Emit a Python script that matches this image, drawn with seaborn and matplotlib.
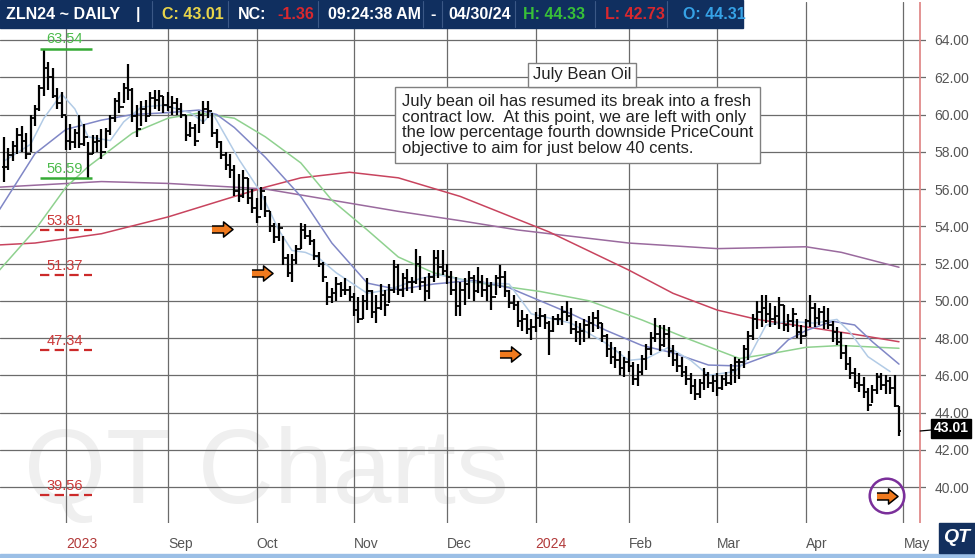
import numpy as np
import pandas as pd
import seaborn as sns
import matplotlib.pyplot as plt
from matplotlib.patches import Rectangle

# ---- data ----
# trading-day number, 0 = first session of Aug 2023
bar_day = np.arange(-14, 189)

bar_high = [
    58.8, 58.2, 58.6, 59.3, 59.4, 59.0, 60.0, 60.5, 61.6, 63.54,
    62.8, 62.5, 61.4, 61.2, 59.9, 59.5, 59.2, 60.0, 59.5, 58.5,
    58.9, 58.9, 59.2, 59.3, 60.0, 60.9, 61.2, 61.7, 62.7, 61.4,
    60.5, 60.7, 60.8, 61.2, 61.3, 61.3, 61.0, 61.2, 61.0, 60.9,
    60.6, 60.0, 59.6, 59.5, 60.2, 60.7, 60.7, 60.1, 59.2, 58.6,
    58.0, 57.9, 57.3, 56.8, 57.0, 56.6, 56.0, 55.5, 56.1, 55.6,
    54.8, 54.2, 54.2, 53.5, 52.5, 52.5, 53.0, 54.2, 54.1, 53.8,
    53.3, 52.6, 52.1, 51.0, 50.7, 51.3, 51.0, 51.2, 50.8, 50.4,
    50.2, 50.3, 51.2, 50.6, 50.3, 50.9, 50.6, 50.9, 52.2, 52.0,
    51.5, 51.7, 51.3, 52.8, 52.4, 51.3, 51.5, 52.7, 52.7, 52.7,
    52.0, 51.6, 51.3, 51.0, 51.2, 51.6, 51.4, 51.8, 51.4, 51.2,
    51.0, 51.4, 51.9, 51.6, 50.6, 50.3, 50.0, 49.5, 49.3, 49.0,
    49.4, 49.6, 49.3, 48.9, 49.2, 49.3, 49.7, 50.0, 49.6, 48.9,
    48.8, 49.0, 49.2, 49.4, 49.5, 48.8, 48.2, 47.8, 47.5, 47.3,
    47.0, 47.3, 46.7, 46.6, 47.1, 47.7, 48.3, 49.1, 48.7, 48.7,
    48.6, 47.6, 47.2, 47.0, 46.5, 46.1, 45.8, 45.8, 46.4, 46.2,
    46.0, 46.1, 46.0, 46.2, 46.6, 47.0, 46.9, 47.6, 48.4, 49.3,
    50.0, 50.3, 50.3, 49.9, 49.7, 50.2, 49.8, 49.3, 49.6, 49.0,
    48.7, 49.0, 50.3, 49.9, 49.6, 49.7, 49.6, 48.9, 48.6, 48.3,
    47.6, 47.0, 46.4, 46.1, 45.9, 45.3, 45.5, 46.1, 46.1, 46.0,
    45.9, 46.0, 44.33,
]
bar_low = [
    56.4, 57.0, 57.5, 57.9, 58.0, 57.6, 58.0, 59.4, 60.2, 61.0,
    61.3, 60.9, 60.3, 59.8, 58.1, 58.1, 58.2, 58.2, 58.3, 56.59,
    57.9, 58.0, 57.6, 58.2, 58.9, 59.6, 60.1, 60.6, 60.8, 59.6,
    58.8, 59.4, 59.6, 59.9, 60.3, 60.2, 60.1, 60.2, 60.0, 60.0,
    59.8, 58.6, 58.8, 58.3, 59.0, 59.5, 59.8, 58.8, 58.2, 57.6,
    57.0, 56.6, 55.6, 55.3, 55.5, 55.2, 54.7, 54.2, 54.9, 54.5,
    53.7, 53.1, 53.2, 51.9, 51.3, 51.0, 52.0, 52.8, 53.3, 53.0,
    52.2, 51.8, 51.0, 49.8, 49.9, 50.0, 50.2, 50.3, 50.0, 49.2,
    48.8, 49.0, 49.5, 49.1, 48.8, 49.5, 49.2, 49.9, 50.4, 50.3,
    50.2, 50.5, 50.4, 50.9, 50.6, 50.0, 50.1, 51.0, 51.2, 51.4,
    50.9, 50.3, 49.2, 49.2, 49.8, 50.1, 50.0, 50.4, 50.2, 50.0,
    49.5, 50.3, 50.7, 50.2, 49.6, 49.5, 48.6, 48.4, 48.2, 47.9,
    48.3, 48.6, 48.5, 47.1, 48.3, 48.7, 48.7, 48.9, 48.2, 47.8,
    47.6, 47.8, 48.0, 48.3, 48.5, 47.8, 47.0, 46.6, 46.4, 46.0,
    45.9, 46.2, 45.5, 45.4, 46.0, 46.3, 47.1, 47.8, 47.3, 47.5,
    47.0, 46.5, 46.2, 45.9, 45.5, 45.0, 44.7, 44.8, 45.2, 45.3,
    45.1, 44.9, 45.2, 45.4, 45.5, 45.6, 45.8, 46.4, 46.8, 47.9,
    48.5, 48.6, 48.8, 48.6, 48.7, 48.5, 48.4, 48.3, 48.6, 48.0,
    47.7, 48.1, 48.6, 48.6, 48.7, 48.5, 48.5, 47.8, 47.6, 46.9,
    46.3, 45.8, 45.3, 45.1, 44.8, 44.1, 44.5, 45.0, 45.2, 45.0,
    45.0, 44.3, 42.73,
]
bar_close = [
    57.2, 57.8, 58.3, 58.9, 58.6, 57.9, 59.8, 60.3, 61.4, 62.5,
    62.0, 61.0, 60.6, 60.0, 58.6, 58.5, 59.0, 58.4, 58.8, 57.9,
    58.5, 58.6, 58.0, 59.1, 59.8, 60.7, 60.4, 61.4, 61.3, 59.9,
    59.2, 60.3, 59.9, 60.9, 60.8, 61.0, 60.5, 60.4, 60.6, 60.3,
    60.0, 58.9, 59.3, 58.6, 60.0, 60.3, 60.2, 59.0, 58.5, 57.8,
    57.3, 57.0, 55.9, 55.6, 56.6, 55.5, 55.0, 54.5, 55.9, 54.8,
    54.0, 53.4, 53.9, 52.3, 51.5, 52.2, 52.8, 53.8, 53.5, 53.2,
    52.4, 52.0, 51.3, 50.2, 50.4, 50.9, 50.6, 50.6, 50.2, 49.5,
    49.0, 50.0, 50.5, 49.4, 49.6, 50.3, 49.8, 50.6, 51.8, 50.6,
    51.2, 51.0, 51.0, 52.0, 51.0, 50.5, 51.3, 52.3, 51.8, 51.6,
    51.3, 50.6, 49.7, 50.6, 50.9, 51.2, 50.5, 51.0, 50.6, 50.8,
    50.2, 51.2, 51.3, 50.5, 49.9, 49.8, 48.9, 49.0, 48.5, 48.6,
    49.1, 49.2, 48.8, 48.4, 49.0, 49.0, 49.4, 49.2, 48.5, 48.3,
    48.4, 48.7, 48.8, 49.1, 48.8, 48.1, 47.4, 47.0, 46.8, 46.4,
    46.7, 46.5, 45.8, 46.2, 46.9, 47.4, 48.0, 48.2, 47.6, 48.2,
    47.3, 46.8, 46.5, 46.2, 45.8, 45.4, 45.0, 45.6, 46.0, 45.6,
    45.7, 45.3, 45.8, 45.6, 46.3, 46.7, 46.7, 47.4, 48.1, 49.0,
    49.4, 49.6, 49.3, 49.0, 49.2, 49.8, 48.7, 48.9, 49.3, 48.3,
    48.1, 48.9, 49.6, 49.1, 49.4, 48.9, 48.7, 48.3, 47.8, 47.2,
    46.6, 46.1, 45.6, 45.5, 45.1, 44.4, 45.2, 45.9, 45.5, 45.7,
    45.3, 44.37, 43.01,
]

# moving averages
ma_fast_day = [-14, -8, -5, -1, 2, 5, 10, 13, 17, 22, 28, 31, 33, 39, 44, 48, 51, 54, 57,
               61, 68, 73, 80, 84, 92, 100, 105, 114, 122, 127, 131, 136, 141, 145, 151,
               154, 158, 163, 169, 174, 177, 181, 186]
ma_fast_val = [57.5, 58.4, 59.8, 61.1, 60.3, 58.8, 58.6, 59.6, 60.4, 60.5, 60.1, 59.6, 60.1,
               57.6, 55.8, 53.8, 52.7, 52.6, 52.3, 51.5, 50.4, 50.6, 51.2, 51.4, 51.0, 50.9,
               49.3, 48.8, 47.7, 46.8, 46.9, 47.5, 46.8, 46.0, 46.2, 46.9, 48.7, 48.9, 48.8,
               49.0, 48.3, 47.0, 46.2]
ma_mid_day = [-15, -7, 0, 8, 15, 23, 30, 34, 38, 45, 53, 60, 68, 75, 83, 92, 100, 107, 114,
              122, 130, 137, 145, 152, 160, 163, 167, 173, 178, 182, 188]
ma_mid_val = [54.9, 57.9, 59.2, 59.7, 60.0, 60.1, 60.24, 60.0, 59.3, 57.7, 55.6, 53.1, 50.95,
              50.6, 50.9, 51.1, 50.7, 50.0, 49.3, 48.4, 47.6, 47.2, 46.55, 46.5, 47.2, 47.9,
              48.4, 48.9, 48.7, 47.8, 46.6]
ma_green_day = [-15, -7, 0, 5, 15, 23, 30, 38, 45, 53, 60, 68, 75, 83, 92, 107, 118, 130,
                141, 152, 160, 167, 175, 188]
ma_green_val = [51.65, 53.8, 56.1, 57.2, 59.0, 59.8, 60.08, 59.8, 58.8, 57.4, 55.4, 53.8,
                52.35, 51.5, 51.0, 50.5, 50.0, 48.97, 47.9, 46.9, 47.2, 47.5, 47.6, 47.45]
ma_red_day = [-15, -7, 8, 23, 38, 45, 53, 64, 75, 89, 109, 127, 137, 147, 156, 167, 178, 188]
ma_red_val = [53.0, 53.1, 53.6, 54.5, 55.6, 56.1, 56.6, 56.9, 56.6, 55.6, 53.7, 51.65,
              50.4, 49.5, 49.0, 48.6, 48.2, 47.8]
ma_long_day = [-15, 8, 23, 38, 45, 60, 75, 89, 102, 127, 147, 167, 175, 188]
ma_long_val = [56.1, 56.4, 56.3, 56.1, 56.0, 55.4, 54.8, 54.3, 53.8, 53.1, 52.8, 52.9,
               52.6, 51.8]

month_day = [0, 23, 43, 65, 86, 106, 127, 147, 167, 189]
month_label = ["2023", "Sep", "Oct", "Nov", "Dec", "2024", "Feb", "Mar", "Apr", "May"]

# PriceCount objectives
level_val = [63.54, 56.59, 53.81, 51.37, 47.34, 39.56]
level_hit = [True, True, False, False, False, False]

arrow_day = [35.2, 44.2, 100.2, 185.3]
arrow_val = [53.85, 51.5, 47.15, 39.52]

header = [("ZLN24 ~ DAILY", "white"), ("|", "white"), ("C: 43.01", "#e8d44a"),
          ("NC:", "white"), ("-1.36", "#d8282e"), ("09:24:38 AM", "white"),
          ("-", "white"), ("04/30/24", "white"), ("H: 44.33", "#38c038"),
          ("L: 42.73", "#d8282e"), ("O: 44.31", "#36a2e6")]
header_x = [6, 136, 162, 238, 277, 328, 430, 448, 523, 605, 683]
header_sep = [152, 228, 318, 423, 442, 515, 595, 667]

note_title = "July Bean Oil"
note_text = ("July bean oil has resumed its break into a fresh\n"
             "contract low.  At this point, we are left with only\n"
             "the low percentage fourth downside PriceCount\n"
             "objective to aim for just below 40 cents.")

# ---- drawing ----
sns.set_theme(style="white")
plt.rcParams["font.family"] = ["Liberation Sans", "DejaVu Sans"]

W, H = 975, 558
def fx(p):
    return p / W
def fy(p):
    return 1 - p / H

fig = plt.figure(figsize=(W / 100, H / 100), dpi=100)
ax = fig.add_axes([0, fy(523), fx(926), (523 - 2) / H])
ax.set_xlim(-14.9, 194.1)
ax.set_ylim(38.07, 66.04)

# watermark
ax.text(fx(24), fy(503), "QT Charts", transform=fig.transFigure, fontsize=76,
        color="#efefef", va="baseline", ha="left", zorder=0)

# grid / axes
ax.set_yticks(np.arange(40, 65, 2))
ax.set_yticklabels([f"{v:.2f}" for v in np.arange(40, 65, 2)])
ax.yaxis.tick_right()
ax.tick_params(axis="y", length=0, pad=6, labelsize=10, labelcolor="#555555")
ax.set_xticks(month_day)
ax.set_xticklabels(month_label, ha="left")
for lab in ax.get_xticklabels():
    lab.set_color("#b23a3a" if lab.get_text().isdigit() else "#555555")
ax.set_xticks(np.arange(-14, 194), minor=True)
ax.tick_params(axis="x", which="major", direction="out", length=5, width=1.6,
               color="#333333", pad=5, labelsize=10)
ax.tick_params(axis="x", which="minor", direction="out", length=2.5, width=0.8,
               color="#b0b0b0")
ax.grid(True, which="major", color="#6b6b6b", lw=0.9)
ax.set_axisbelow(True)
for s in ax.spines.values():
    s.set_visible(False)

# moving averages
ma_sets = [
    (ma_long_day, ma_long_val, "#9a6a9e"),
    (ma_red_day, ma_red_val, "#c8445e"),
    (ma_green_day, ma_green_val, "#8fd18f"),
    (ma_mid_day, ma_mid_val, "#8087c6"),
    (ma_fast_day, ma_fast_val, "#b2cbe6"),
]
for d, v, c in ma_sets:
    sns.lineplot(x=d, y=v, color=c, lw=1.1, ax=ax, zorder=2)

# OHLC bars (open tick at prior close)
bars = pd.DataFrame({"day": bar_day, "high": bar_high, "low": bar_low, "close": bar_close})
bars["open"] = bars["close"].shift(1).fillna(bars["close"])
ax.vlines(bars["day"], bars["low"], bars["high"], color="black", lw=1.6, zorder=3)
ax.hlines(bars["open"], bars["day"] - 0.5, bars["day"], color="black", lw=1.3, zorder=3)
ax.hlines(bars["close"], bars["day"], bars["day"] + 0.5, color="black", lw=1.3, zorder=3)

# objective levels
for v, hit in zip(level_val, level_hit):
    c_line = "#35aa35" if hit else "#cc2a2a"
    c_txt = "#4cbb4c" if hit else "#cc3a3a"
    if hit:
        ax.hlines(v, -5.9, 5.9, color=c_line, lw=1.8, zorder=4)
    else:
        ax.hlines(v, -5.9, 5.9, color=c_line, lw=1.6, linestyles=(0, (4.2, 2.4)), zorder=4)
    ax.annotate(f"{v:.2f}", (-0.3, v), xytext=(0, 1.5), textcoords="offset points",
                ha="center", va="bottom", fontsize=10.5, color=c_txt, zorder=4)

# arrows and circle
arrow_marker = [(-1, -0.33), (0.1, -0.33), (0.1, -0.72), (1, 0), (0.1, 0.72), (0.1, 0.33), (-1, 0.33)]
ax.scatter(arrow_day, arrow_val, marker=arrow_marker, s=230, c="#f07a1e",
           edgecolors="black", linewidths=1.1, zorder=5)
ax.scatter(arrow_day[-1:], arrow_val[-1:], marker="o", s=620, facecolors="none",
           edgecolors="#7a2f9a", linewidths=1.8, zorder=5)

# current-bar marker line and last price tag
red_x = 192.8
ax.axvline(red_x, color="#e08a8a", lw=1.3, zorder=2)
ax.annotate(f"{bar_close[-1]:.2f}", xy=(red_x, bar_close[-1]), xytext=(22.5, 2),
            textcoords="offset points", ha="center", va="center", fontsize=10,
            fontweight="bold", color="white", annotation_clip=False,
            bbox=dict(boxstyle="square,pad=0.18", fc="black", ec="black"),
            arrowprops=dict(arrowstyle="-", color="black", lw=0.9, shrinkA=0, shrinkB=0),
            zorder=6)

# notes
fig.text(fx(402), fy(94), note_text, fontsize=12, color="#222222", va="top", ha="left",
         linespacing=1.05,
         bbox=dict(boxstyle="square,pad=0.42", fc="white", ec="#808080", lw=1.0), zorder=7)
fig.text(fx(582), fy(75), note_title, fontsize=12, color="#222222", va="center",
         ha="center", bbox=dict(boxstyle="square,pad=0.28", fc="white", ec="#808080", lw=1.0),
         zorder=8)

# header bar
fig.add_artist(Rectangle((0, fy(28)), fx(743), 28 / H, transform=fig.transFigure,
                         color="#102f5f", zorder=9))
for sx in header_sep:
    fig.add_artist(plt.Line2D([fx(sx), fx(sx)], [fy(27), fy(1)], transform=fig.transFigure,
                              color="#3b5886", lw=0.8, zorder=10))
for (t, c), hx in zip(header, header_x):
    fig.text(fx(hx), fy(14.5), t, color=c, fontsize=11.5, fontweight="bold",
             va="center", ha="left", zorder=11)

# bottom band and logo
fig.add_artist(Rectangle((0, 0), 1, 4 / H, transform=fig.transFigure, color="#9bbfe6", zorder=9))
fig.add_artist(Rectangle((fx(939), fy(553)), fx(36), 30 / H, transform=fig.transFigure,
                         color="#13305e", zorder=9))
fig.text(fx(957), fy(538), "QT", color="white", fontsize=14, fontweight="bold",
         fontstyle="italic", ha="center", va="center", zorder=10)

fig.savefig("out.png", dpi=100)
